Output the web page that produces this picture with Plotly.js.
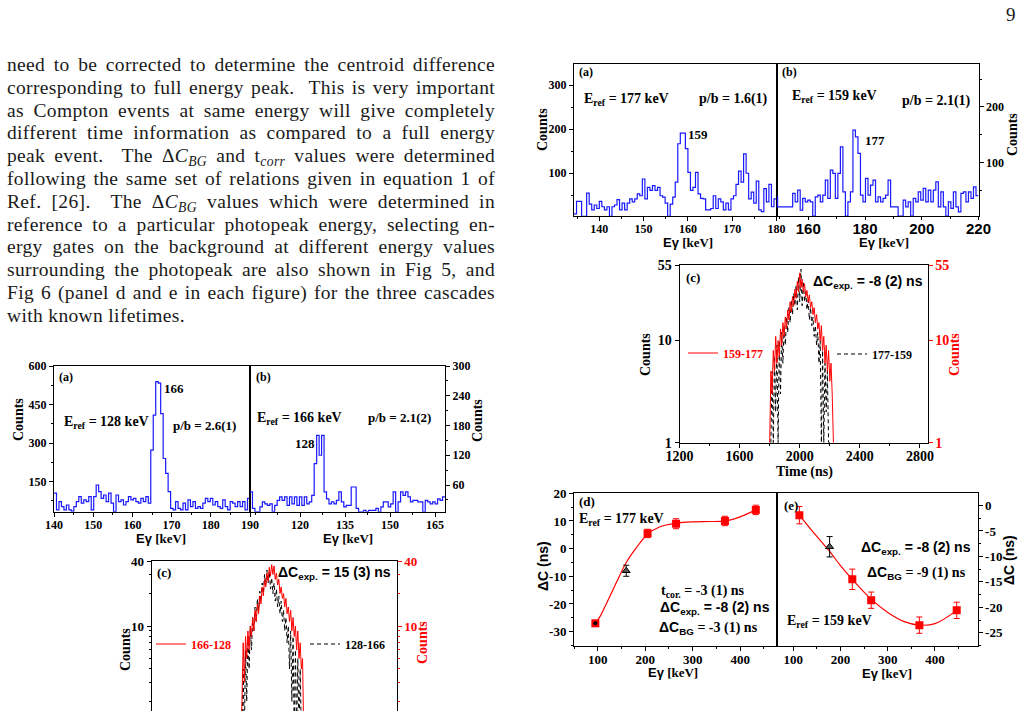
<!DOCTYPE html>
<html>
<head>
<meta charset="utf-8">
<script src="https://cdn.plot.ly/plotly-3.0.1.min.js"></script>
<style>
html, body { margin:0; padding:0; width:1028px; height:711px; overflow:hidden; background:#fff; }
#page { position:relative; width:1028px; height:711px; overflow:hidden; }
#fig { position:absolute; left:0; top:0; width:1028px; height:800px; }
#text { position:absolute; left:7px; top:54px; width:488px; font-family:'Liberation Serif', serif; font-size:19.5px; letter-spacing:0.35px; color:#1a1a1a; }
#text .ln { height:22.8px; line-height:22.8px; white-space:nowrap; text-align:justify; text-align-last:justify; }
#text .last { text-align-last:left; }
#text sub { font-size:0.7em; line-height:0; vertical-align:-0.3em; }
#pageno { position:absolute; left:1006px; top:4px; font-family:'Liberation Serif', serif; font-size:19px; color:#1a1a1a; }
</style>
</head>
<body>
<div id="page">
  <div id="fig"></div>
  <div id="text">
    <div class="ln">need to be corrected to determine the centroid difference</div>
    <div class="ln">corresponding to full energy peak.&nbsp; This is very important</div>
    <div class="ln">as Compton events at same energy will give completely</div>
    <div class="ln">different time information as compared to a full energy</div>
    <div class="ln">peak event.&nbsp; The Δ<i>C</i><sub><i>BG</i></sub> and t<sub><i>corr</i></sub> values were determined</div>
    <div class="ln">following the same set of relations given in equation 1 of</div>
    <div class="ln">Ref. [26].&nbsp; The Δ<i>C</i><sub><i>BG</i></sub> values which were determined in</div>
    <div class="ln">reference to a particular photopeak energy, selecting en-</div>
    <div class="ln">ergy gates on the background at different energy values</div>
    <div class="ln">surrounding the photopeak are also shown in Fig 5, and</div>
    <div class="ln">Fig 6 (panel d and e in each figure) for the three cascades</div>
    <div class="ln last">with known lifetimes.</div>
  </div>
  <div id="pageno">9</div>
</div>
<script>
// ---------- gated energy spectra (counts per bin, regular bins between the edges) ----------
const specTopA_range = [134.3, 180];     // gate on 177 keV
const specTopA_counts = [8, 36, 36, 2, 2, 55, 30, 17, 28, 20, 36, 24, 17, 24, 2, 24, 28, 40, 17, 32,
  17, 32, 42, 35, 42, 53, 49, 87, 42, 68, 61, 72, 61, 68, 49, 46, 32, 2, 30, 46,
  80, 167, 191, 191, 156, 102, 61, 68, 102, 53, 43, 42, 17, 17, 20, 49, 20, 42, 35, 17,
  32, 17, 42, 49, 75, 105, 80, 144, 100, 42, 57, 32, 82, 17, 13, 65, 35, 75, 24, 42];

const specTopB_range = [148.3, 220];     // gate on 159 keV
const specTopB_counts = [38, 20, 20, 20, 20, 20, 20, 44, 29, 50, 14, 35, 29, 32, 29, 3, 38, 41, 29, 41,
  68, 35, 86, 80, 35, 80, 128, 47, 3, 29, 47, 158, 146, 116, 41, 29, 71, 41, 59, 68,
  29, 38, 29, 35, 41, 68, 20, 20, 20, 3, 3, 32, 20, 29, 3, 35, 29, 47, 32, 53,
  29, 50, 29, 50, 65, 20, 47, 20, 3, 29, 17, 47, 20, 11, 44, 47, 29, 47, 35, 56, 40];

const specLeftA_range = [140, 190];      // gate on 128 keV
const specLeftA_counts = [105, 40, 72, 53, 40, 59, 40, 35, 53, 72, 92, 66, 79, 72, 92, 40, 92, 137, 111, 85,
  98, 72, 105, 66, 33, 98, 72, 79, 59, 72, 92, 79, 85, 72, 66, 85, 72, 92, 66, 273,
  409, 539, 533, 415, 240, 182, 111, 46, 40, 72, 46, 40, 66, 40, 79, 53, 72, 46, 53, 46,
  66, 85, 72, 85, 59, 72, 53, 46, 79, 53, 40, 72, 66, 53, 72, 53, 72, 40, 85];

const specLeftB_range = [103.3, 168.3];  // gate on 166 keV
const specLeftB_counts = [46, 13, 6, 6, 16, 26, 22, 19, 22, 6, 19, 29, 36, 29, 36, 19, 36, 22, 36, 19,
  36, 19, 36, 22, 26, 39, 103, 160, 120, 160, 46, 32, 22, 26, 22, 29, 46, 26, 16, 19,
  19, 56, 56, 13, 6, 6, 9, 6, 9, 9, 9, 13, 6, 16, 26, 26, 16, 22, 46, 6,
  26, 46, 39, 46, 36, 26, 29, 29, 26, 26, 6, 29, 26, 22, 26, 22, 32, 29, 36];

// ---------- time difference spectra (8 ns bins) ----------
const timeBin = 8;
const tTop_red_start = 1800;   // 159-177
const tTop_red = [1, 5, 3, 8, 5, 11, 6, 10, 7, 13, 9, 15, 11, 17, 13, 20, 16, 24, 19, 27,
  22, 32, 26, 38, 30, 46, 33, 40, 30, 36, 27, 31, 24, 28, 21, 24, 18, 21, 15, 18,
  13, 15, 10, 14, 8, 11, 6, 9, 5, 8, 4, 6, 3, 1];
const tTop_blk_start = 1808;   // 177-159
const tTop_blk = [1, 5, 1, 7, 2, 9, 1, 10, 3, 12, 6, 14, 9, 17, 12, 21, 15, 25, 18, 29,
  22, 35, 20, 42, 24, 50, 22, 38, 24, 30, 20, 25, 16, 21, 14, 17, 11, 14, 9, 12,
  6, 10, 1, 8, 1, 6, 2, 5, 1, 1];
const tLeft_red_start = 1800;  // 166-128
const tLeft_red = [1, 2, 7, 3, 8, 5, 9, 6, 10, 8, 12, 9, 14, 11, 16, 13, 19, 16, 23, 19,
  27, 23, 31, 26, 35, 29, 37, 30, 36, 27, 31, 24, 27, 20, 23, 18, 20, 15, 18, 13,
  15, 11, 14, 9, 12, 8, 10, 6, 9, 5, 7, 4, 5, 1];
const tLeft_blk_start = 1808;  // 128-166
const tLeft_blk = [1, 4, 1, 6, 2, 8, 4, 10, 6, 12, 9, 15, 11, 18, 14, 21, 17, 25, 20, 30,
  24, 33, 25, 32, 22, 28, 20, 25, 17, 22, 15, 19, 13, 17, 11, 14, 9, 12, 7, 10,
  4, 9, 2, 8, 1, 6, 1, 5, 1, 4, 1, 1];

// ---------- centroid differences vs gate energy ----------
const dE = [95, 205, 265, 368, 433];
const dC = [-27, 5.5, 9, 10, 14];
const dErr = [0.8, 1.5, 1.8, 1.7, 1.7];
const dPeakE = [160], dPeakC = [-8], dPeakErr = [2];
const dFitE = [95, 105, 115, 125, 140, 160, 180, 205, 230, 265, 300, 335, 368, 400, 433];
const dFitC = [-27, -24.5, -21, -17.5, -12, -5, 0, 5.2, 7.8, 9.2, 9.7, 9.8, 10, 11.5, 14];

const eE = [113, 225, 265, 367, 446];
const eC = [-1.9, -14.5, -18.6, -23.5, -20.6];
const eErr = [1.7, 2, 1.6, 1.6, 1.6];
const ePeakE = [177], ePeakC = [-8.1], ePeakErr = [2];
const eFitE = [113, 140, 177, 200, 225, 265, 300, 335, 367, 400, 446];
const eFitC = [-1.9, -5, -9, -11.8, -14.5, -18.4, -21, -22.8, -23.5, -23.2, -20.6];

// ---------- tick labels ----------
const ticksTopAX = [140, 150, 160, 170, 180];
const ticksTopAY = [100, 200, 300];
const ticksTopBX = [160, 180, 200, 220];
const ticksTopBY = [100, 200];
const ticksTimeX = [1200, 1600, 2000, 2400, 2800];
const ticksTopCY = [1, 10, 55];
const ticksDX = [100, 200, 300, 400];
const ticksDY = [-30, -20, -10, 0, 10, 20];
const ticksEY = [-25, -20, -15, -10, -5, 0];
const ticksLeftAX = [140, 150, 160, 170, 180, 190];
const ticksLeftAY = [150, 300, 450, 600];
const ticksLeftBX = [120, 135, 150, 165];
const ticksLeftBY = [60, 120, 180, 240, 300];
const ticksLeftCY = [10, 40];

// ---------- drawing ----------
const W = 1028, H = 800;
const SERIF = 'Liberation Serif', SANS = 'Liberation Sans';
const BLUE = 'rgb(25,25,255)', RED = 'rgb(255,0,0)';

const dx = (a, b) => [a / W, b / W];
const dy = (top, bottom) => [1 - bottom / H, 1 - top / H];

function steps(range, counts) {
  const n = counts.length, w = (range[1] - range[0]) / n;
  const x = [], y = [];
  counts.forEach((c, i) => { x.push(range[0] + i * w); y.push(c); });
  x.push(range[1]); y.push(counts[n - 1]);
  return { x, y };
}
function times(start, counts) { return counts.map((_, i) => start + i * timeBin); }
const lbl = v => v.map(String);

function ax(o) {
  return Object.assign({
    showline: true, linecolor: '#000', linewidth: 1, mirror: true,
    ticks: 'outside', ticklen: 4, tickwidth: 1, tickcolor: '#000',
    showgrid: false, zeroline: false, fixedrange: true, tickmode: 'array',
    tickfont: { family: SERIF, size: 12, color: '#000', weight: 'bold' }
  }, o);
}
const minor = (d, t0) => ({ dtick: d, tick0: t0, ticks: 'outside', ticklen: 2, tickcolor: '#000', showgrid: false });

const traces = [];
function hist(range, counts, xa, ya) {
  const s = steps(range, counts);
  traces.push({ type: 'scatter', mode: 'lines', x: s.x, y: s.y, xaxis: xa, yaxis: ya,
    line: { shape: 'hv', color: BLUE, width: 1.2 }, showlegend: false, hoverinfo: 'skip' });
}
hist(specTopA_range, specTopA_counts, 'x', 'y');
hist(specTopB_range, specTopB_counts, 'x2', 'y2');
hist(specLeftA_range, specLeftA_counts, 'x7', 'y7');
hist(specLeftB_range, specLeftB_counts, 'x8', 'y8');

function timeTrace(start, counts, xa, ya, color, dash, name, legend) {
  traces.push({ type: 'scatter', mode: 'lines', x: times(start, counts), y: counts, xaxis: xa, yaxis: ya,
    line: { color: color, width: 1, dash: dash }, name: name, legend: legend, showlegend: true, hoverinfo: 'skip' });
}
timeTrace(tTop_blk_start, tTop_blk, 'x3', 'y3', '#000', '4px,3px', '177-159', 'legend2');
timeTrace(tTop_red_start, tTop_red, 'x3', 'y4', RED, 'solid', '159-177', 'legend');
timeTrace(tLeft_blk_start, tLeft_blk, 'x9', 'y9', '#000', '4px,3px', '128-166', 'legend4');
timeTrace(tLeft_red_start, tLeft_red, 'x9', 'y10', RED, 'solid', '166-128', 'legend3');

function dcPanel(fE, fC, E, C, err, pE, pC, pErr, xa, ya) {
  traces.push({ type: 'scatter', mode: 'lines', x: fE, y: fC, xaxis: xa, yaxis: ya,
    line: { color: RED, width: 1.2, shape: 'spline', smoothing: 1 }, showlegend: false, hoverinfo: 'skip' });
  traces.push({ type: 'scatter', mode: 'markers', x: E, y: C, xaxis: xa, yaxis: ya,
    marker: { symbol: 'square', size: 8, color: RED },
    error_y: { type: 'data', array: err, color: RED, thickness: 1, width: 3 }, showlegend: false, hoverinfo: 'skip' });
  traces.push({ type: 'scatter', mode: 'markers', x: pE, y: pC, xaxis: xa, yaxis: ya,
    marker: { symbol: 'triangle-up', size: 7, color: '#555', line: { color: '#000', width: 1 } },
    error_y: { type: 'data', array: pErr, color: '#000', thickness: 1, width: 3 }, showlegend: false, hoverinfo: 'skip' });
}
dcPanel(dFitE, dFitC, dE, dC, dErr, dPeakE, dPeakC, dPeakErr, 'x5', 'y5');
dcPanel(eFitE, eFitC, eE, eC, eErr, ePeakE, ePeakC, ePeakErr, 'x6', 'y6');
// reference-gate point drawn inside the first square of panel (d)
traces.push({ type: 'scatter', mode: 'markers', x: [dE[0]], y: [dC[0]], xaxis: 'x5', yaxis: 'y5',
  marker: { symbol: 'circle', size: 4, color: '#000' }, showlegend: false, hoverinfo: 'skip' });

const redTick = { family: SERIF, size: 14, color: RED, weight: 'bold' };
const bold = (f, s, c) => ({ family: f, size: s, color: c || '#000', weight: 'bold' });

const layout = {
  width: W, height: H, margin: { l: 0, r: 0, t: 0, b: 0 },
  paper_bgcolor: 'rgba(0,0,0,0)', plot_bgcolor: 'rgba(0,0,0,0)',
  showlegend: true,
  // top spectra
  xaxis: ax({ domain: dx(574, 776.5), range: specTopA_range.slice(), anchor: 'y', ticklabelstandoff: -2,
    tickvals: ticksTopAX, ticktext: lbl(ticksTopAX), minor: minor(5, 135) }),
  yaxis: ax({ domain: dy(64, 216), range: [3, 348], anchor: 'x',
    tickvals: ticksTopAY, ticktext: lbl(ticksTopAY), minor: minor(50, 0) }),
  xaxis2: ax({ domain: dx(776.5, 978.5), range: [148.8, 220], anchor: 'y2', ticklen: 3, ticklabelstandoff: -4,
    tickvals: ticksTopBX, ticktext: lbl(ticksTopBX), minor: minor(10, 150),
    tickfont: bold(SANS, 15) }),
  yaxis2: ax({ domain: dy(64, 216), range: [3.4, 277], anchor: 'x2', side: 'right',
    tickvals: ticksTopBY, ticktext: lbl(ticksTopBY), minor: minor(50, 0) }),
  // top time spectrum
  xaxis3: ax({ domain: dx(679.5, 927.5), range: [1200, 2850], anchor: 'y3', ticklabelstandoff: -4,
    tickvals: ticksTimeX, ticktext: lbl(ticksTimeX), minor: minor(200, 1200),
    tickfont: bold(SERIF, 14) }),
  yaxis3: ax({ domain: dy(265, 442.7), type: 'log', range: [0, Math.log10(55)], anchor: 'x3', mirror: false,
    tickvals: ticksTopCY, ticktext: lbl(ticksTopCY), tickfont: bold(SERIF, 14) }),
  yaxis4: ax({ overlaying: 'y3', side: 'right', type: 'log', range: [0, Math.log10(55)], anchor: 'x3', mirror: false,
    tickvals: ticksTopCY, ticktext: lbl(ticksTopCY), tickcolor: RED, tickfont: redTick }),
  // centroid difference panels
  xaxis5: ax({ domain: dx(574, 776.7), range: [50, 477], anchor: 'y5', ticklabelstandoff: -3,
    tickvals: ticksDX, ticktext: lbl(ticksDX), minor: minor(50, 0), tickfont: bold(SERIF, 13) }),
  yaxis5: ax({ domain: dy(493.3, 646), range: [-35.2, 20], anchor: 'x5',
    tickvals: ticksDY, ticktext: lbl(ticksDY), minor: minor(5, 0), tickfont: bold(SERIF, 13) }),
  xaxis6: ax({ domain: dx(776.7, 977.5), range: [65, 490], anchor: 'y6', ticklabelstandoff: -3,
    tickvals: ticksDX, ticktext: lbl(ticksDX), minor: minor(50, 0), tickfont: bold(SERIF, 13) }),
  yaxis6: ax({ domain: dy(493.3, 646), range: [-27.6, 2.4], anchor: 'x6', side: 'right',
    tickvals: ticksEY, ticktext: lbl(ticksEY), minor: minor(2.5, 0), tickfont: bold(SERIF, 13) }),
  // left spectra
  xaxis7: ax({ domain: dx(54, 250), range: specLeftA_range.slice(), anchor: 'y7', ticklabelstandoff: -2,
    tickvals: ticksLeftAX, ticktext: lbl(ticksLeftAX), minor: minor(5, 140) }),
  yaxis7: ax({ domain: dy(366, 511.7), range: [33, 600], anchor: 'x7',
    tickvals: ticksLeftAY, ticktext: lbl(ticksLeftAY), minor: minor(75, 0) }),
  xaxis8: ax({ domain: dx(250, 445), range: specLeftB_range.slice(), anchor: 'y8', ticklabelstandoff: -2,
    tickvals: ticksLeftBX, ticktext: lbl(ticksLeftBX), minor: minor(7.5, 105) }),
  yaxis8: ax({ domain: dy(366, 511.7), range: [6.2, 300], anchor: 'x8', side: 'right',
    tickvals: ticksLeftBY, ticktext: lbl(ticksLeftBY), minor: minor(30, 0) }),
  // left time spectrum (its time axis lies below the page edge)
  xaxis9: ax({ domain: dx(151.7, 396.7), range: [1200, 2850], anchor: 'y9',
    showticklabels: false, ticks: '' }),
  yaxis9: ax({ domain: dy(561, 734), type: 'log', range: [0, Math.log10(40)], anchor: 'x9', mirror: false,
    tickvals: ticksLeftCY, ticktext: lbl(ticksLeftCY),
    minor: { tickvals: [2, 3, 4, 5, 6, 7, 8, 9, 20, 30], ticks: 'outside', ticklen: 2, tickcolor: '#000' },
    tickfont: bold(SERIF, 13) }),
  yaxis10: ax({ overlaying: 'y9', side: 'right', type: 'log', range: [0, Math.log10(40)], anchor: 'x9', mirror: false,
    tickvals: ticksLeftCY, ticktext: lbl(ticksLeftCY), tickcolor: RED,
    minor: { tickvals: [2, 3, 4, 5, 6, 7, 8, 9, 20, 30], ticks: 'outside', ticklen: 2, tickcolor: RED },
    tickfont: bold(SERIF, 13, RED) }),
  annotations: []
};

function leg(x, y, color) {
  return { x: x / W, y: 1 - y / H, xanchor: 'left', yanchor: 'middle', bgcolor: 'rgba(0,0,0,0)',
    borderwidth: 0, itemwidth: 30, font: bold(SERIF, 12, color) };
}
layout.legend = leg(683, 353, RED);
layout.legend2 = leg(832, 354, '#000');
layout.legend3 = leg(151, 644, RED);
layout.legend4 = leg(305, 644, '#000');

function A(x, y, text, o) {
  o = o || {};
  layout.annotations.push({ xref: 'paper', yref: 'paper', x: x / W, y: 1 - y / H, text: text, showarrow: false,
    xanchor: o.xa || 'left', yanchor: 'middle', textangle: o.rot || 0,
    font: bold(o.f || SERIF, o.s || 13, o.c) });
}
const EG = '<span style="font-family:Liberation Sans">Eγ</span> [keV]';
const DCexp = v => '<span style="font-family:Liberation Sans">ΔC<sub>exp.</sub> = ' + v + '</span>';

// top spectra labels
A(577, 72, '(a)', { s: 12 });
A(582, 99, 'E<sub>ref</sub> = 177 keV', { s: 14 });
A(770, 99, 'p/b = 1.6(1)', { s: 14, xa: 'right' });
A(686, 135, '159', { s: 13 });
A(780, 72, '(b)', { s: 12 });
A(790, 97, 'E<sub>ref</sub> = 159 keV', { s: 14 });
A(973, 101, 'p/b = 2.1(1)', { s: 14, xa: 'right' });
A(863, 140, '177', { s: 13 });
A(543, 130, 'Counts', { s: 14, rot: -90, xa: 'center' });
A(1013, 135, 'Counts', { s: 14, rot: -90, xa: 'center' });
A(688, 243, EG, { s: 13, xa: 'center' });
A(884, 243, EG, { s: 13, xa: 'center' });

// top time spectrum labels
A(684, 278, '(c)', { s: 13 });
A(925, 282, DCexp('-8 (2) ns'), { s: 14, xa: 'right' });
A(645, 355, 'Counts', { s: 14, rot: -90, xa: 'center' });
A(954, 355, 'Counts', { s: 14, rot: -90, xa: 'center', c: RED });
A(804, 472, 'Time (ns)', { s: 14, xa: 'center' });

// centroid difference panel labels
A(577, 502, '(d)', { s: 13 });
A(577, 519, 'E<sub>ref</sub> = 177 keV', { s: 14 });
A(659, 591, 't<sub>cor.</sub> = -3 (1) ns', { s: 14 });
A(658, 608, DCexp('-8 (2) ns'), { s: 14 });
A(657, 628, '<span style="font-family:Liberation Sans">ΔC<sub>BG</sub></span> = -3 (1) ns', { s: 14 });
A(543, 566, '<span style="font-family:Liberation Sans">ΔC (ns)</span>', { s: 14, rot: -90, xa: 'center' });
A(673, 672, EG, { s: 13, xa: 'center' });
A(782, 505, '(e)', { s: 13 });
A(973, 548, DCexp('-8 (2) ns'), { s: 14, xa: 'right' });
A(865, 573, '<span style="font-family:Liberation Sans">ΔC<sub>BG</sub></span> = -9 (1) ns', { s: 14 });
A(785, 621, 'E<sub>ref</sub> = 159 keV', { s: 14 });
A(1009, 560, '<span style="font-family:Liberation Sans">ΔC (ns)</span>', { s: 14, rot: -90, xa: 'center' });
A(887, 673, EG, { s: 13, xa: 'center' });

// left spectra labels
A(57, 377, '(a)', { s: 12 });
A(162, 388, '166', { s: 13 });
A(62, 422, 'E<sub>ref</sub> = 128 keV', { s: 14 });
A(238, 425, 'p/b = 2.6(1)', { s: 13, xa: 'right' });
A(18, 420, 'Counts', { s: 14, rot: -90, xa: 'center' });
A(161, 538, EG, { s: 13, xa: 'center' });
A(254, 377, '(b)', { s: 12 });
A(255, 418, 'E<sub>ref</sub> = 166 keV', { s: 14 });
A(433, 417, 'p/b = 2.1(2)', { s: 13, xa: 'right' });
A(293, 443, '128', { s: 13 });
A(477, 421, 'Counts', { s: 14, rot: -90, xa: 'center' });
A(348, 538, EG, { s: 13, xa: 'center' });

// left time spectrum labels
A(155, 572, '(c)', { s: 13 });
A(393, 573, DCexp('15 (3) ns'), { s: 14, xa: 'right' });
A(125, 650, 'Counts', { s: 14, rot: -90, xa: 'center' });
A(422, 643, 'Counts', { s: 14, rot: -90, xa: 'center', c: RED });

Plotly.newPlot('fig', traces, layout, { displayModeBar: false, staticPlot: true });
</script>
</body>
</html>
